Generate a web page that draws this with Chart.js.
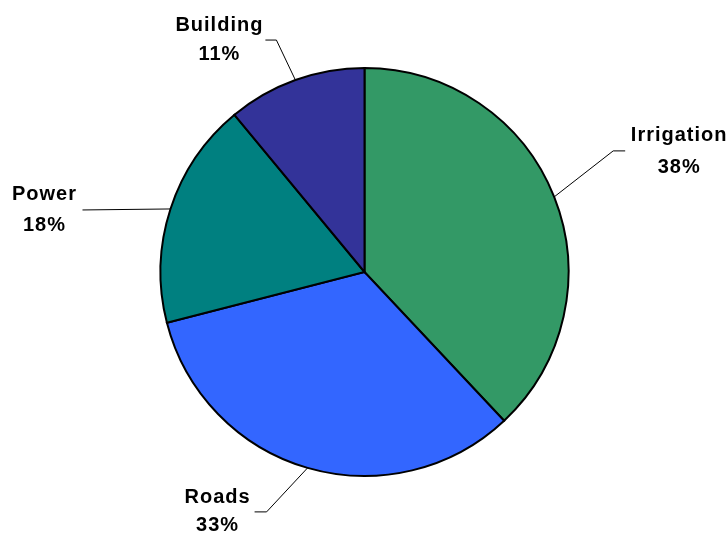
<!DOCTYPE html>
<html>
<head>
<meta charset="utf-8">
<script src="https://cdn.jsdelivr.net/npm/chart.js@4.4.0/dist/chart.umd.min.js"></script>
<style>
html,body{margin:0;padding:0;background:#fff;}
#wrap{width:728px;height:535px;position:relative;}
</style>
</head>
<body>
<div id="wrap"><canvas id="c" width="728" height="535"></canvas></div>
<script>
const categories = ['Irrigation', 'Roads', 'Power', 'Building'];
const values = [38, 33, 18, 11];
const colors = ['#339966', '#3366FF', '#008080', '#333399'];

// leader line layout: elbow offset from slice edge, horizontal tail, text offset from tail end
const leaderLayout = [
  {ex: 59, ey: -46, hx: 12, tx: 54, ty1: -10, ty2: 22},
  {ex: -41, ey: 44, hx: -12, tx: -37, ty1: -9, ty2: 19},
  {ex: -88, ey: 1, hx: 0, tx: -38, ty1: -10, ty2: 21},
  {ex: -19, ey: -40, hx: -11, tx: -46, ty1: -9, ty2: 20}
];

const labelPlugin = {
  id: 'leaderLabels',
  afterDraw(chart) {
    const ctx = chart.ctx;
    const meta = chart.getDatasetMeta(0);
    const total = values.reduce((a, b) => a + b, 0);
    meta.data.forEach((arc, i) => {
      const p = arc.getProps(['x', 'y', 'startAngle', 'endAngle', 'outerRadius'], true);
      const mid = (p.startAngle + p.endAngle) / 2;
      const sx = p.x + Math.cos(mid) * p.outerRadius;
      const sy = p.y + Math.sin(mid) * p.outerRadius;
      const L = leaderLayout[i];
      const ex = sx + L.ex, ey = sy + L.ey;
      const hx = ex + L.hx;
      ctx.save();
      ctx.strokeStyle = '#000';
      ctx.lineWidth = 1;
      ctx.beginPath();
      ctx.moveTo(sx, sy);
      ctx.lineTo(ex, ey);
      ctx.lineTo(hx, ey);
      ctx.stroke();
      ctx.fillStyle = '#000';
      ctx.font = 'bold 20px "Liberation Sans", Arial, sans-serif';
      ctx.textAlign = 'center';
      ctx.textBaseline = 'alphabetic';
      try { ctx.letterSpacing = '1px'; } catch (e) {}
      const pct = Math.round(values[i] / total * 100) + '%';
      ctx.fillText(categories[i], hx + L.tx, ey + L.ty1);
      ctx.fillText(pct, hx + L.tx, ey + L.ty2);
      ctx.restore();
    });
  }
};

new Chart(document.getElementById('c'), {
  type: 'pie',
  data: {
    labels: categories,
    datasets: [{
      data: values,
      backgroundColor: colors,
      borderColor: '#000',
      borderWidth: 2,
      borderJoinStyle: 'miter'
    }]
  },
  options: {
    responsive: false,
    animation: false,
    radius: 204,
    layout: {padding: {left: 1, right: 0, top: 9, bottom: 0}},
    plugins: {
      legend: {display: false},
      tooltip: {enabled: false}
    }
  },
  plugins: [labelPlugin]
});
</script>
</body>
</html>
